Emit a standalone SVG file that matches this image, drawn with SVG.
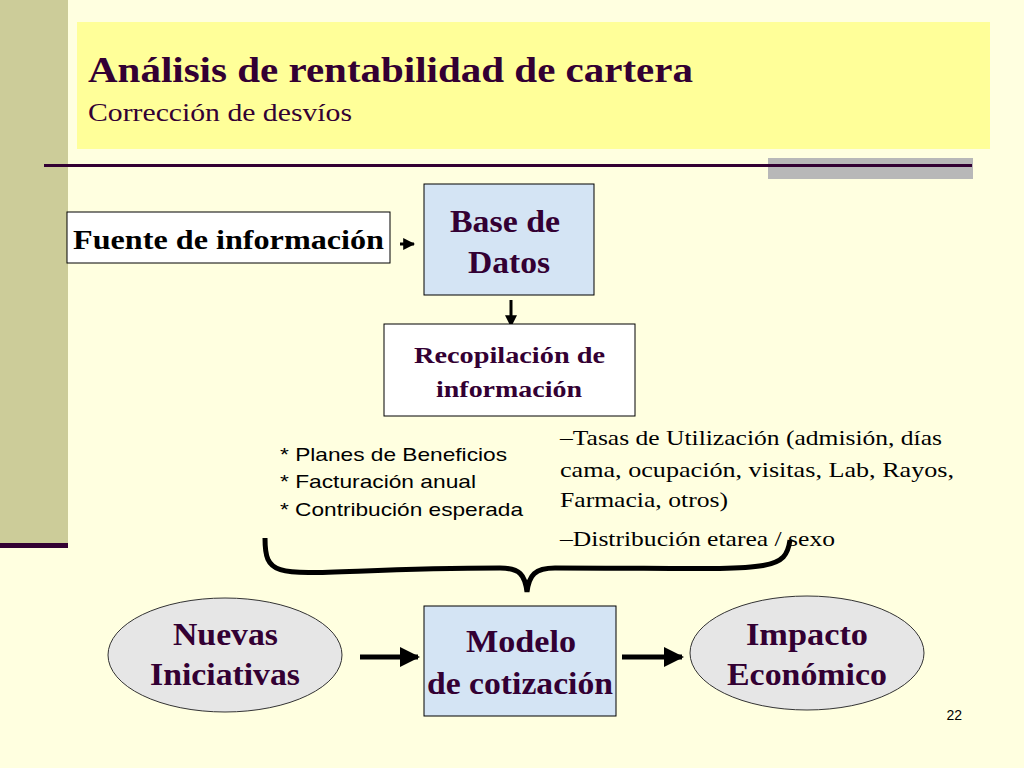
<svg xmlns="http://www.w3.org/2000/svg" width="1024" height="768" viewBox="0 0 1024 768">
<style>
.t{font-family:"Liberation Serif",serif;font-weight:bold;fill:#330033}
.k{font-family:"Liberation Serif",serif;fill:#000}
.s{font-family:"Liberation Sans",sans-serif;fill:#000;font-size:19px}
.box{stroke:#000;stroke-width:1}
.con{stroke:#000;fill:none}
</style>
<defs>
<marker id="ah" viewBox="0 0 10 10" refX="9" refY="5" markerWidth="4" markerHeight="4" orient="auto"><path d="M0,0L10,5L0,10z" fill="#000"/></marker>
</defs>
<rect width="1024" height="768" fill="#ffffe0"/>
<rect x="0" y="0" width="68" height="546" fill="#cccc99"/>
<rect x="0" y="543" width="68" height="5" fill="#330033"/>
<rect x="77" y="22" width="913" height="127" fill="#ffff99"/>
<rect x="768" y="158" width="205" height="21" fill="#b8b8b8"/>
<rect x="44" y="164" width="928" height="3" fill="#330033"/>
<text x="88" y="82" class="t" font-size="36" textLength="605" lengthAdjust="spacingAndGlyphs">Análisis de rentabilidad de cartera</text>
<text x="88" y="121" font-family="Liberation Serif,serif" font-size="26" fill="#330033" textLength="264" lengthAdjust="spacingAndGlyphs">Corrección de desvíos</text>
<g id="connectors">
<line x1="400" y1="244" x2="414" y2="244" class="con" stroke-width="3" marker-end="url(#ah)"/>
<line x1="511" y1="300" x2="511" y2="326" class="con" stroke-width="3" marker-end="url(#ah)"/>
<line x1="360" y1="657" x2="418" y2="657" class="con" stroke-width="5" marker-end="url(#ah)"/>
<line x1="622" y1="657" x2="682" y2="657" class="con" stroke-width="5" marker-end="url(#ah)"/>
<path d="M265,538 C265,590 285,568 500,568 C520,568 525,575 527,592 C529,575 535,568 555,568 C765,568 785,575 790,540" class="con" stroke-width="5"/>
</g>
<g id="fuente"><rect x="67" y="212" width="323" height="51" fill="#fff" class="box"/>
<text x="73" y="249" class="k" font-weight="bold" font-size="28" textLength="311" lengthAdjust="spacingAndGlyphs">Fuente de información</text></g>
<g id="base"><rect x="424" y="184" width="170" height="111" fill="#d4e4f4" class="box"/>
<text x="450" y="232" class="t" font-size="32" textLength="110" lengthAdjust="spacingAndGlyphs">Base de</text>
<text x="468" y="273" class="t" font-size="32" textLength="82" lengthAdjust="spacingAndGlyphs">Datos</text></g>
<g id="recop"><rect x="384" y="324" width="251" height="92" fill="#fff" class="box"/>
<text x="414" y="363" class="t" font-size="23" textLength="191" lengthAdjust="spacingAndGlyphs">Recopilación de</text>
<text x="436" y="397" class="t" font-size="23" textLength="146" lengthAdjust="spacingAndGlyphs">información</text></g>
<g id="list1"><text x="280" y="461" class="s" textLength="227" lengthAdjust="spacingAndGlyphs">* Planes de Beneficios</text>
<text x="280" y="488" class="s" textLength="196" lengthAdjust="spacingAndGlyphs">* Facturación anual</text>
<text x="280" y="516" class="s" textLength="243" lengthAdjust="spacingAndGlyphs">* Contribución esperada</text></g>
<g id="list2">
<text x="560" y="445" class="k" font-size="22" textLength="382" lengthAdjust="spacingAndGlyphs">–Tasas de Utilización (admisión, días</text>
<text x="560" y="477" class="k" font-size="22" textLength="394" lengthAdjust="spacingAndGlyphs">cama, ocupación,  visitas, Lab, Rayos,</text>
<text x="560" y="507" class="k" font-size="22" textLength="168" lengthAdjust="spacingAndGlyphs">Farmacia, otros)</text>
<text x="560" y="546" class="k" font-size="22" textLength="275" lengthAdjust="spacingAndGlyphs">–Distribución etarea / sexo</text></g>
<g id="nuevas"><ellipse cx="225" cy="655" rx="117" ry="57" fill="#e6e6e6" stroke="#333"/>
<text x="173" y="645" class="t" font-size="32" textLength="105" lengthAdjust="spacingAndGlyphs">Nuevas</text>
<text x="150" y="685" class="t" font-size="32" textLength="150" lengthAdjust="spacingAndGlyphs">Iniciativas</text></g>
<g id="modelo"><rect x="424" y="606" width="192" height="110" fill="#d4e4f4" class="box"/>
<text x="466" y="652" class="t" font-size="32" textLength="110" lengthAdjust="spacingAndGlyphs">Modelo</text>
<text x="427" y="694" class="t" font-size="32" textLength="186" lengthAdjust="spacingAndGlyphs">de cotización</text></g>
<g id="impacto"><ellipse cx="807" cy="653" rx="117" ry="57" fill="#e6e6e6" stroke="#333"/>
<text x="746" y="645" class="t" font-size="32" textLength="122" lengthAdjust="spacingAndGlyphs">Impacto</text>
<text x="727" y="685" class="t" font-size="32" textLength="160" lengthAdjust="spacingAndGlyphs">Económico</text></g>
<text x="962" y="720" text-anchor="end" font-family="Liberation Sans,sans-serif" font-size="14" fill="#000">22</text>
</svg>
